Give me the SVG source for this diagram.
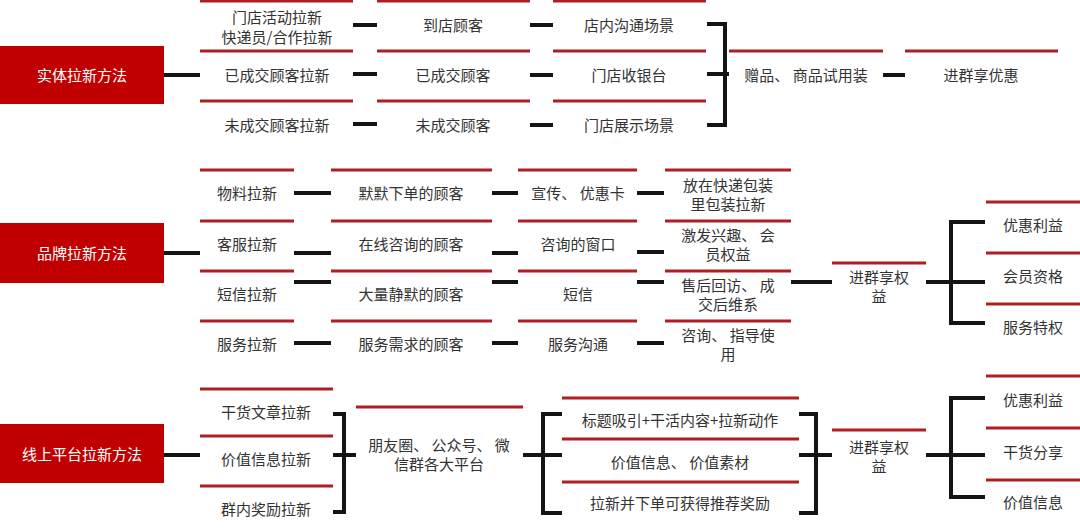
<svg xmlns="http://www.w3.org/2000/svg" width="1080" height="529" viewBox="0 0 1080 529">
<style>
.bg{fill:#ffffff}
.box{fill:#c00000}
.bt{fill:#ffffff;font-family:"Noto Sans CJK SC","Noto Sans",sans-serif;font-size:15px;text-anchor:middle;dominant-baseline:central}
.t{fill:#333333;font-family:"Noto Sans CJK SC","Noto Sans",sans-serif;font-size:15px;text-anchor:middle;dominant-baseline:central}
.rl{stroke:#b01e23;stroke-width:3;fill:none}
.c{stroke:#141414;stroke-width:4;fill:none}
</style>
<rect class="bg" x="0" y="0" width="1080" height="529"/>

<!-- ===== Section 1 ===== -->
<g id="n-shiti">
<rect class="box" x="0" y="46" width="164" height="58"/>
<text class="bt" x="82" y="74">实体拉新方法</text>
</g>
<g id="n-s1c1r1"><line class="rl" x1="200" y1="1" x2="353" y2="1"/><text class="t"><tspan x="277" y="16">门店活动拉新</tspan><tspan x="277" y="35.5">快递员/合作拉新</tspan></text></g>
<g id="n-s1c1r2"><line class="rl" x1="200" y1="51" x2="353" y2="51"/><text class="t" x="277" y="74.5">已成交顾客拉新</text></g>
<g id="n-s1c1r3"><line class="rl" x1="200" y1="101" x2="353" y2="101"/><text class="t" x="277" y="124.5">未成交顾客拉新</text></g>
<g id="n-s1c2r1"><line class="rl" x1="377" y1="1" x2="530" y2="1"/><text class="t" x="453" y="24.5">到店顾客</text></g>
<g id="n-s1c2r2"><line class="rl" x1="377" y1="51" x2="530" y2="51"/><text class="t" x="453" y="74.5">已成交顾客</text></g>
<g id="n-s1c2r3"><line class="rl" x1="377" y1="101" x2="530" y2="101"/><text class="t" x="453" y="124.5">未成交顾客</text></g>
<g id="n-s1c3r1"><line class="rl" x1="553" y1="1" x2="706" y2="1"/><text class="t" x="629" y="24.5">店内沟通场景</text></g>
<g id="n-s1c3r2"><line class="rl" x1="553" y1="51" x2="706" y2="51"/><text class="t" x="629" y="74.5">门店收银台</text></g>
<g id="n-s1c3r3"><line class="rl" x1="553" y1="101" x2="706" y2="101"/><text class="t" x="629" y="124.5">门店展示场景</text></g>
<g id="n-s1c4"><line class="rl" x1="729" y1="51" x2="883" y2="51"/><text class="t" x="806" y="74">赠品、 商品试用装</text></g>
<g id="n-s1c5"><line class="rl" x1="905" y1="51" x2="1058" y2="51"/><text class="t" x="981" y="74">进群享优惠</text></g>

<!-- ===== Section 2 ===== -->
<g id="n-pinpai">
<rect class="box" x="0" y="223" width="164" height="60"/>
<text class="bt" x="82" y="252">品牌拉新方法</text>
</g>
<g id="n-s2c1r1"><line class="rl" x1="200" y1="170" x2="294" y2="170"/><text class="t" x="247" y="192.5">物料拉新</text></g>
<g id="n-s2c1r2"><line class="rl" x1="200" y1="221" x2="294" y2="221"/><text class="t" x="247" y="243.5">客服拉新</text></g>
<g id="n-s2c1r3"><line class="rl" x1="200" y1="271" x2="294" y2="271"/><text class="t" x="247" y="293.5">短信拉新</text></g>
<g id="n-s2c1r4"><line class="rl" x1="200" y1="321" x2="294" y2="321"/><text class="t" x="247" y="343.5">服务拉新</text></g>
<g id="n-s2c2r1"><line class="rl" x1="331" y1="170" x2="492" y2="170"/><text class="t" x="411" y="192.5">默默下单的顾客</text></g>
<g id="n-s2c2r2"><line class="rl" x1="331" y1="221" x2="492" y2="221"/><text class="t" x="411" y="243.5">在线咨询的顾客</text></g>
<g id="n-s2c2r3"><line class="rl" x1="331" y1="271" x2="492" y2="271"/><text class="t" x="411" y="293.5">大量静默的顾客</text></g>
<g id="n-s2c2r4"><line class="rl" x1="331" y1="321" x2="492" y2="321"/><text class="t" x="411" y="343.5">服务需求的顾客</text></g>
<g id="n-s2c3r1"><line class="rl" x1="518" y1="170" x2="637" y2="170"/><text class="t" x="578" y="192.5">宣传、 优惠卡</text></g>
<g id="n-s2c3r2"><line class="rl" x1="518" y1="221" x2="637" y2="221"/><text class="t" x="578" y="243.5">咨询的窗口</text></g>
<g id="n-s2c3r3"><line class="rl" x1="518" y1="271" x2="637" y2="271"/><text class="t" x="578" y="293.5">短信</text></g>
<g id="n-s2c3r4"><line class="rl" x1="518" y1="321" x2="637" y2="321"/><text class="t" x="578" y="343.5">服务沟通</text></g>
<g id="n-s2c4r1"><line class="rl" x1="665" y1="170" x2="791" y2="170"/><text class="t"><tspan x="728" y="184">放在快递包装</tspan><tspan x="728" y="203">里包装拉新</tspan></text></g>
<g id="n-s2c4r2"><line class="rl" x1="665" y1="221" x2="791" y2="221"/><text class="t"><tspan x="728" y="234">激发兴趣、 会</tspan><tspan x="728" y="253">员权益</tspan></text></g>
<g id="n-s2c4r3"><line class="rl" x1="665" y1="271" x2="791" y2="271"/><text class="t"><tspan x="728" y="284">售后回访、 成</tspan><tspan x="728" y="303">交后维系</tspan></text></g>
<g id="n-s2c4r4"><line class="rl" x1="665" y1="321" x2="791" y2="321"/><text class="t"><tspan x="728" y="334">咨询、 指导使</tspan><tspan x="728" y="353">用</tspan></text></g>
<g id="n-s2qun"><line class="rl" x1="832" y1="263" x2="926" y2="263"/><text class="t"><tspan x="879" y="276">进群享权</tspan><tspan x="879" y="295">益</tspan></text></g>
<g id="n-s2r1"><line class="rl" x1="986" y1="202" x2="1080" y2="202"/><text class="t" x="1033" y="224">优惠利益</text></g>
<g id="n-s2r2"><line class="rl" x1="986" y1="253" x2="1080" y2="253"/><text class="t" x="1033" y="275.5">会员资格</text></g>
<g id="n-s2r3"><line class="rl" x1="986" y1="304" x2="1080" y2="304"/><text class="t" x="1033" y="326.5">服务特权</text></g>

<!-- ===== Section 3 ===== -->
<g id="n-xianshang">
<rect class="box" x="0" y="424" width="164" height="59"/>
<text class="bt" x="82" y="453">线上平台拉新方法</text>
</g>
<g id="n-s3c1r1"><line class="rl" x1="200" y1="389" x2="333" y2="389"/><text class="t" x="266" y="411.5">干货文章拉新</text></g>
<g id="n-s3c1r2"><line class="rl" x1="200" y1="436" x2="333" y2="436"/><text class="t" x="266" y="458.5">价值信息拉新</text></g>
<g id="n-s3c1r3"><line class="rl" x1="200" y1="486" x2="333" y2="486"/><text class="t" x="266" y="508.5">群内奖励拉新</text></g>
<g id="n-s3c2"><line class="rl" x1="356" y1="407" x2="523" y2="407"/><text class="t"><tspan x="439" y="444">朋友圈、 公众号、 微</tspan><tspan x="439" y="463">信群各大平台</tspan></text></g>
<g id="n-s3c3r1"><line class="rl" x1="562" y1="398" x2="799" y2="398"/><text class="t" x="680" y="419">标题吸引+干活内容+拉新动作</text></g>
<g id="n-s3c3r2"><line class="rl" x1="562" y1="439" x2="799" y2="439"/><text class="t" x="680" y="461">价值信息、 价值素材</text></g>
<g id="n-s3c3r3"><line class="rl" x1="562" y1="482" x2="799" y2="482"/><text class="t" x="680" y="502">拉新并下单可获得推荐奖励</text></g>
<g id="n-s3qun"><line class="rl" x1="832" y1="430" x2="926" y2="430"/><text class="t"><tspan x="879" y="446">进群享权</tspan><tspan x="879" y="465">益</tspan></text></g>
<g id="n-s3r1"><line class="rl" x1="986" y1="376" x2="1080" y2="376"/><text class="t" x="1033" y="399">优惠利益</text></g>
<g id="n-s3r2"><line class="rl" x1="986" y1="428" x2="1080" y2="428"/><text class="t" x="1033" y="451.5">干货分享</text></g>
<g id="n-s3r3"><line class="rl" x1="986" y1="480" x2="1080" y2="480"/><text class="t" x="1033" y="501.5">价值信息</text></g>

<!-- ===== Connectors ===== -->
<g id="connectors">
<!-- section 1 -->
<line class="c" x1="164" y1="75" x2="200" y2="75"/>
<line class="c" x1="353" y1="25" x2="377" y2="25"/>
<line class="c" x1="353" y1="74" x2="377" y2="74"/>
<line class="c" x1="353" y1="124" x2="377" y2="124"/>
<line class="c" x1="530" y1="25" x2="553" y2="25"/>
<line class="c" x1="530" y1="75" x2="553" y2="75"/>
<line class="c" x1="530" y1="125" x2="553" y2="125"/>
<path class="c" d="M707,24 H725 V125 H707"/>
<line class="c" x1="707" y1="74" x2="729" y2="74"/>
<line class="c" x1="883" y1="75" x2="905" y2="75"/>
<!-- section 2 -->
<line class="c" x1="164" y1="253" x2="200" y2="253"/>
<line class="c" x1="294" y1="193" x2="331" y2="193"/>
<line class="c" x1="294" y1="253" x2="331" y2="253"/>
<line class="c" x1="294" y1="282" x2="331" y2="282"/>
<line class="c" x1="294" y1="343" x2="331" y2="343"/>
<line class="c" x1="492" y1="193" x2="518" y2="193"/>
<line class="c" x1="492" y1="253" x2="518" y2="253"/>
<line class="c" x1="492" y1="282" x2="518" y2="282"/>
<line class="c" x1="492" y1="343" x2="518" y2="343"/>
<line class="c" x1="637" y1="193" x2="664" y2="193"/>
<line class="c" x1="637" y1="252" x2="664" y2="252"/>
<line class="c" x1="637" y1="282" x2="664" y2="282"/>
<line class="c" x1="637" y1="343" x2="664" y2="343"/>
<line class="c" x1="791" y1="282" x2="832" y2="282"/>
<line class="c" x1="926" y1="282" x2="985" y2="282"/>
<path class="c" d="M985,222 H951 V323 H985"/>
<!-- section 3 -->
<line class="c" x1="164" y1="455" x2="200" y2="455"/>
<path class="c" d="M333,414 H344 V512 H333"/>
<line class="c" x1="333" y1="455" x2="356" y2="455"/>
<line class="c" x1="523" y1="455" x2="562" y2="455"/>
<path class="c" d="M562,414 H543 V513 H562"/>
<path class="c" d="M799,414 H816 V513 H799"/>
<line class="c" x1="799" y1="455" x2="832" y2="455"/>
<line class="c" x1="926" y1="455" x2="985" y2="455"/>
<path class="c" d="M985,398 H951 V497 H985"/>
</g>
</svg>
